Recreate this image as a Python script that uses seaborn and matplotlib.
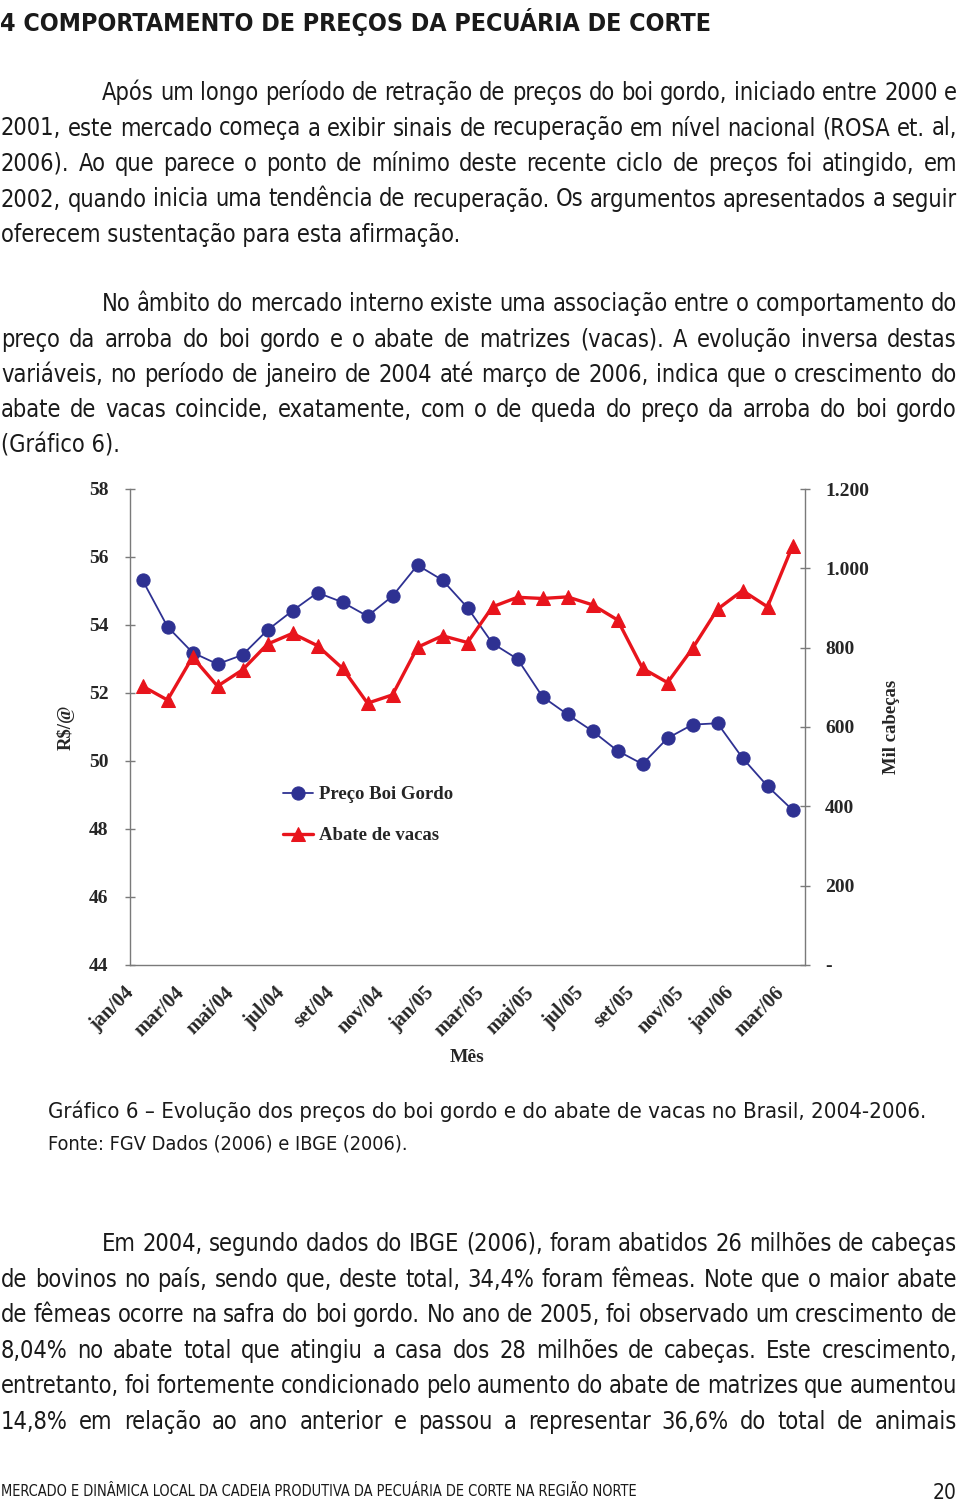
import numpy as np
import pandas as pd
import matplotlib
matplotlib.use("Agg")
import matplotlib.pyplot as plt
import seaborn as sns
from matplotlib import font_manager as fm
from matplotlib.transforms import ScaledTranslation

# ---------------- data ----------------
months = ["jan/04", "fev/04", "mar/04", "abr/04", "mai/04", "jun/04", "jul/04",
          "ago/04", "set/04", "out/04", "nov/04", "dez/04",
          "jan/05", "fev/05", "mar/05", "abr/05", "mai/05", "jun/05", "jul/05",
          "ago/05", "set/05", "out/05", "nov/05", "dez/05",
          "jan/06", "fev/06", "mar/06"]
preco_boi = [55.32, 53.95, 53.19, 52.85, 53.12, 53.85, 54.42, 54.95, 54.67,
             54.26, 54.85, 55.76, 55.32, 54.51, 53.46, 53.00, 51.89, 51.37,
             50.88, 50.30, 49.91, 50.67, 51.07, 51.11, 50.09, 49.26, 48.56]
abate_vacas = [703, 668, 776, 703, 744, 809, 836, 805, 748, 660, 681, 801,
               830, 813, 903, 927, 924, 928, 908, 870, 748, 712, 798, 897,
               944, 903, 1056]
left_ticks = [44, 46, 48, 50, 52, 54, 56, 58]
right_ticks = [0, 200, 400, 600, 800, 1000, 1200]
right_ticklabels = ["-", "200", "400", "600", "800", "1.000", "1.200"]
series_names = ["Preço Boi Gordo", "Abate de vacas"]

heading = "4 COMPORTAMENTO DE PREÇOS DA PECUÁRIA DE CORTE"
par1 = ["Após um longo período de retração de preços do boi gordo, iniciado entre 2000 e",
        "2001, este mercado começa a exibir sinais de recuperação em nível nacional (ROSA et. al,",
        "2006). Ao que parece o ponto de mínimo deste recente ciclo de preços foi atingido, em",
        "2002, quando inicia uma tendência de recuperação. Os argumentos apresentados a seguir",
        "oferecem sustentação para esta afirmação."]
par2 = ["No âmbito do mercado interno existe uma associação entre o comportamento do",
        "preço da arroba do boi gordo e o abate de matrizes (vacas). A evolução inversa destas",
        "variáveis, no período de janeiro de 2004 até março de 2006, indica que o crescimento do",
        "abate de vacas coincide, exatamente, com o de queda do preço da arroba do boi gordo",
        "(Gráfico 6)."]
caption = "Gráfico 6 – Evolução dos preços do boi gordo e do abate de vacas no Brasil, 2004-2006."
source = "Fonte: FGV Dados (2006) e IBGE (2006)."
par3 = ["Em 2004, segundo dados do IBGE (2006), foram abatidos 26 milhões de cabeças",
        "de bovinos no país, sendo que, deste total, 34,4% foram fêmeas. Note que o maior abate",
        "de fêmeas ocorre na safra do boi gordo. No ano de 2005, foi observado um crescimento de",
        "8,04% no abate total que atingiu a casa dos 28 milhões de cabeças. Este crescimento,",
        "entretanto, foi fortemente condicionado pelo aumento do abate de matrizes que aumentou",
        "14,8% em relação ao ano anterior e passou a representar 36,6% do total de animais"]
footer = "MERCADO E DINÂMICA LOCAL DA CADEIA PRODUTIVA DA PECUÁRIA DE CORTE NA REGIÃO NORTE"
page_no = "20"

# ---------------- style ----------------
sns.set_style("white")
plt.rcParams["font.family"] = ["Liberation Serif", "DejaVu Serif"]
plt.rcParams["font.weight"] = "bold"

names = {f.name for f in fm.fontManager.ttflist}
if "Liberation Sans Narrow" in names:
    BODY = dict(family=["Liberation Sans Narrow", "DejaVu Sans"], fontstretch="normal")
else:
    BODY = dict(family=["DejaVu Sans"], fontstretch="condensed")

BLUE = "#2E3192"
RED = "#E8141C"
GRAY = "#7A7A7A"
INK = "#1A1A1A"

W, H = 960, 1501
fig = plt.figure(figsize=(W / 100, H / 100), dpi=100)
page = fig.add_axes([0, 0, 1, 1])
page.set_xlim(0, W)
page.set_ylim(H, 0)
page.axis("off")
renderer = fig.canvas.get_renderer()


def text_w(s, size, **kw):
    t = page.text(0, 0, s, fontsize=size, **kw)
    w = t.get_window_extent(renderer).width
    t.remove()
    return w


def draw_plain(s, x, y, size, ha="left", **kw):
    page.text(x, y, s, fontsize=size, ha=ha, va="baseline", color=INK, **kw)


def draw_fit(s, x, y, width, size, **kw):
    w = text_w(s, size, **kw)
    draw_plain(s, x, y, size * width / w, **kw)


def draw_justified(s, x0, x1, y, size, **kw):
    words = s.split(" ")
    ws = [text_w(w, size, **kw) for w in words]
    gap = (x1 - x0 - sum(ws)) / (len(words) - 1)
    x = x0
    for w, wd in zip(words, ws):
        page.text(x, y, w, fontsize=size, ha="left", va="baseline", color=INK, **kw)
        x += wd + gap


BK = dict(BODY, fontweight="normal")
X0, X1, IND = 1, 957, 102

# choose body size so that every justified line fits
body_size = 17.5
just_lines = [(par1[0], IND), (par1[1], X0), (par1[2], X0), (par1[3], X0),
              (par2[0], IND), (par2[1], X0), (par2[2], X0), (par2[3], X0),
              (par3[0], IND)] + [(l, X0) for l in par3[1:]]
scale = 1.0
for s, x0 in just_lines:
    n = len(s.split(" ")) - 1
    nat = sum(text_w(w, body_size, **BK) for w in s.split(" ")) + n * 0.22 * body_size * 100 / 72
    scale = min(scale, (X1 - x0) / nat)
body_size *= scale

# heading
draw_fit(heading, 0, 31, 712, 22, **dict(BODY, fontweight="bold"))

# paragraph 1
ys1 = [100, 135.5, 171, 206.5, 242]
for i, (s, y) in enumerate(zip(par1, ys1)):
    x0 = IND if i == 0 else X0
    if i < len(par1) - 1:
        draw_justified(s, x0, X1, y, body_size, **BK)
    else:
        draw_plain(s, x0, y, body_size, **BK)

ys2 = [311, 347, 382, 417, 452]
for i, (s, y) in enumerate(zip(par2, ys2)):
    x0 = IND if i == 0 else X0
    if i < len(par2) - 1:
        draw_justified(s, x0, X1, y, body_size, **BK)
    else:
        draw_plain(s, x0, y, body_size, **BK)

draw_fit(caption, 48, 1118, 874, 16.5, **BK)
draw_fit(source, 48, 1149, 362, 14, **BK)

ys3 = [1251, 1287, 1322, 1358, 1393, 1429]
for i, (s, y) in enumerate(zip(par3, ys3)):
    x0 = IND if i == 0 else X0
    draw_justified(s, x0, X1, y, body_size, **BK)

draw_fit(footer, 1, 1496, 638, 12, **BK)
draw_plain(page_no, 957, 1499, 15, ha="right", **BK)

# ---------------- chart ----------------
df = pd.DataFrame({"pos": np.arange(len(months)), "mes": months,
                   "preco": preco_boi, "abate": abate_vacas})

ax = fig.add_axes([130 / W, 1 - 965 / H, 675 / W, 476 / H])
ax.patch.set_alpha(0)
ax2 = ax.twinx()

sns.lineplot(data=df, x="pos", y="preco", ax=ax, color=BLUE, marker="o",
             markersize=9.5, markeredgecolor=BLUE, linewidth=1.3, legend=False)
sns.lineplot(data=df, x="pos", y="abate", ax=ax2, color=RED, marker="^",
             markersize=10, markeredgecolor=RED, linewidth=2.4, legend=False)

ax.set_xlim(-0.5, len(months) - 0.5)
ax.set_ylim(44, 58)
ax2.set_ylim(0, 1200)

ax.set_xticks(df["pos"][::2])
ax.set_xticklabels(months[::2], rotation=45, ha="right", fontsize=14.5, fontweight="bold")
ax.set_xticks(np.arange(-0.5, len(months), 1), minor=True)
ax.tick_params(axis="x", which="major", length=0, pad=13)
ax.tick_params(axis="x", which="minor", direction="inout", length=7, width=1, color=GRAY)
off = ScaledTranslation(-4 / 100, 0, fig.dpi_scale_trans)
for lbl in ax.get_xticklabels():
    lbl.set_transform(lbl.get_transform() + off)

ax.set_yticks(left_ticks)
ax.set_yticklabels([str(t) for t in left_ticks], fontsize=14, fontweight="bold")
ax.tick_params(axis="y", which="major", direction="inout", length=7, width=1,
               color=GRAY, pad=12, left=True, right=False)
ax2.set_yticks(right_ticks)
ax2.set_yticklabels(right_ticklabels, fontsize=14, fontweight="bold")
ax2.tick_params(axis="y", which="major", direction="inout", length=7, width=1,
                color=GRAY, pad=11, right=True, left=False)

for a in (ax, ax2):
    a.spines["top"].set_visible(False)
    for sp in a.spines.values():
        sp.set_color(GRAY)
        sp.set_linewidth(1)
ax.spines["right"].set_visible(False)
ax2.spines["left"].set_visible(False)
ax2.spines["bottom"].set_visible(False)

ax.set_xlabel("Mês", fontsize=14, fontweight="bold")
ax.xaxis.set_label_coords((467 - 130) / 675, (965 - 1057) / 476)
ax.xaxis.label.set_va("center")
ax.set_ylabel("R$/@", fontsize=13.5, fontweight="bold")
ax.yaxis.set_label_coords((66 - 130) / 675, (965 - 727) / 476)
ax.yaxis.label.set_va("center")
ax2.set_ylabel("Mil cabeças", fontsize=13.5, fontweight="bold")
ax2.yaxis.set_label_coords((891 - 130) / 675, (965 - 727) / 476)
ax2.yaxis.label.set(va="center", rotation=90)

h1 = ax.get_lines()[0]
h2 = ax2.get_lines()[0]
ax2.legend([h1, h2], series_names, loc="upper left",
           bbox_to_anchor=(283 / W, 1 - 786 / H), bbox_transform=fig.transFigure,
           frameon=False, borderpad=0, borderaxespad=0, handlelength=1.6,
           handletextpad=0.3, labelspacing=1.27, numpoints=1,
           prop=dict(family="Liberation Serif", weight="bold", size=13.5))

fig.savefig("out.png", dpi=100)
